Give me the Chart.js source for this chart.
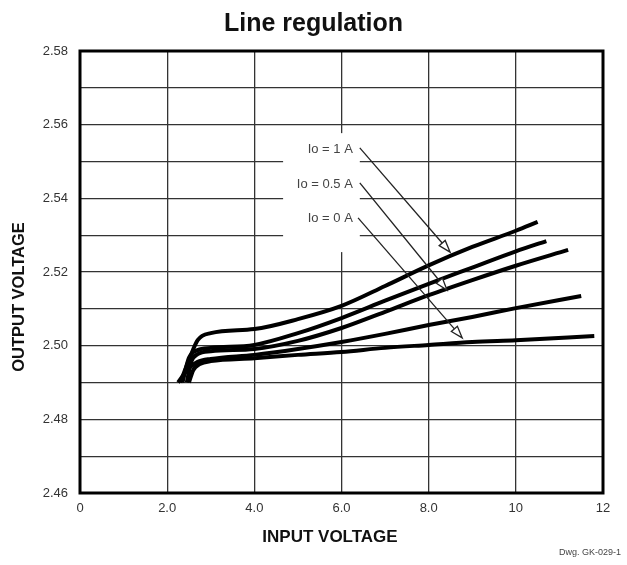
<!DOCTYPE html>
<html>
<head>
<meta charset="utf-8">
<script src="https://cdn.jsdelivr.net/npm/chart.js@4/dist/chart.umd.min.js"></script>
<style>
  html, body { margin: 0; padding: 0; background: #fff; }
  #wrap { width: 627px; height: 565px; }
</style>
</head>
<body>
<div id="wrap"><canvas id="chart" width="627" height="565"></canvas></div>
<script>
// curves (input volts -> output volts)
const vinA = [2.3, 2.5, 2.7, 3.0, 4.0, 5.0, 6.0, 7.0, 8.0, 9.0, 10.0, 10.5];
const voutA = [2.490, 2.4961, 2.5015, 2.5034, 2.5045, 2.5072, 2.5108, 2.5162, 2.5218, 2.5268, 2.5312, 2.5336];

const vinB = [2.35, 2.5, 2.7, 3.0, 4.0, 5.0, 6.0, 7.0, 8.0, 9.0, 10.0, 10.7];
const voutB = [2.490, 2.4967, 2.4988, 2.4994, 2.5002, 2.5034, 2.5075, 2.5122, 2.5168, 2.5212, 2.5256, 2.5284];

const vinC = [2.45, 2.55, 2.7, 3.0, 4.0, 5.0, 6.0, 7.0, 8.0, 9.0, 10.0, 11.2];
const voutC = [2.490, 2.4956, 2.4977, 2.4985, 2.4991, 2.5013, 2.5048, 2.5092, 2.5137, 2.5178, 2.5217, 2.5260];

const vinD = [2.25, 2.5, 2.7, 3.0, 4.0, 5.0, 6.0, 7.0, 8.0, 9.0, 10.0, 11.5];
const voutD = [2.490, 2.4939, 2.4956, 2.4964, 2.4975, 2.4991, 2.5010, 2.5032, 2.5056, 2.5078, 2.5102, 2.5135];

const vinE = [2.5, 2.6, 2.75, 3.0, 4.0, 5.0, 6.0, 7.0, 8.0, 9.0, 10.0, 11.8];
const voutE = [2.490, 2.4934, 2.4950, 2.4958, 2.4966, 2.4975, 2.4983, 2.4994, 2.5002, 2.5010, 2.5015, 2.5026];

const labelTexts = ["Io = 1 A", "Io = 0.5 A", "Io = 0 A"];
// label anchor (right edge) and arrow start/tip, in data units
const labelX = [6.26, 6.26, 6.26];
const labelY = [2.5532, 2.5437, 2.5345];
const arrowFromX = [6.42, 6.42, 6.38];
const arrowFromY = [2.5537, 2.5442, 2.5347];
const arrowToX = [8.49, 8.42, 8.77];
const arrowToY = [2.5254, 2.5151, 2.5021];

const FONT = "'Liberation Sans', Arial, sans-serif";

function pts(xs, ys) {
  return xs.map((x, i) => ({ x: x, y: ys[i] }));
}

function curve(xs, ys) {
  return {
    data: pts(xs, ys),
    borderColor: "#000",
    borderWidth: 4,
    pointRadius: 0,
    fill: false,
    cubicInterpolationMode: "monotone",
  };
}

const annotations = {
  id: "annotations",
  afterDatasetsDraw(chart) {
    const ctx = chart.ctx;
    const xs = chart.scales.x;
    const ys = chart.scales.y;
    ctx.save();

    // white box behind the labels
    const bx0 = xs.getPixelForValue(4.66);
    const bx1 = xs.getPixelForValue(6.42);
    const by0 = ys.getPixelForValue(2.5577);
    const by1 = ys.getPixelForValue(2.5254);
    ctx.fillStyle = "#fff";
    ctx.fillRect(bx0, by0, bx1 - bx0, by1 - by0);

    ctx.font = "13px " + FONT;
    ctx.fillStyle = "#444";
    ctx.textAlign = "right";
    ctx.textBaseline = "middle";
    for (let i = 0; i < labelTexts.length; i++) {
      ctx.fillText(labelTexts[i], xs.getPixelForValue(labelX[i]), ys.getPixelForValue(labelY[i]));
    }

    ctx.strokeStyle = "#222";
    ctx.lineWidth = 1.3;
    for (let i = 0; i < arrowFromX.length; i++) {
      const x0 = xs.getPixelForValue(arrowFromX[i]);
      const y0 = ys.getPixelForValue(arrowFromY[i]);
      const x1 = xs.getPixelForValue(arrowToX[i]);
      const y1 = ys.getPixelForValue(arrowToY[i]);
      const a = Math.atan2(y1 - y0, x1 - x0);
      const len = 12, half = 4;
      const bxp = x1 - len * Math.cos(a);
      const byp = y1 - len * Math.sin(a);
      ctx.beginPath();
      ctx.moveTo(x0, y0);
      ctx.lineTo(bxp, byp);
      ctx.stroke();
      ctx.beginPath();
      ctx.moveTo(x1, y1);
      ctx.lineTo(bxp + half * Math.sin(a), byp - half * Math.cos(a));
      ctx.lineTo(bxp - half * Math.sin(a), byp + half * Math.cos(a));
      ctx.closePath();
      ctx.fillStyle = "#fff";
      ctx.fill();
      ctx.stroke();
    }

    // frame
    const ca = chart.chartArea;
    ctx.strokeStyle = "#000";
    ctx.lineWidth = 3;
    ctx.strokeRect(ca.left, ca.top, ca.right - ca.left, ca.bottom - ca.top);

    // axis titles
    ctx.fillStyle = "#111";
    ctx.textAlign = "center";
    ctx.font = "bold 17px " + FONT;
    ctx.fillText("INPUT VOLTAGE", 330, 537);
    ctx.save();
    ctx.translate(19, 297);
    ctx.rotate(-Math.PI / 2);
    ctx.font = "bold 16.5px " + FONT;
    ctx.fillText("OUTPUT VOLTAGE", 0, 0);
    ctx.restore();

    ctx.font = "9px " + FONT;
    ctx.fillStyle = "#444";
    ctx.textAlign = "right";
    ctx.fillText("Dwg. GK-029-1", 621, 553);
    ctx.restore();
  },
};

new Chart(document.getElementById("chart").getContext("2d"), {
  type: "line",
  data: {
    datasets: [
      curve(vinA, voutA),
      curve(vinB, voutB),
      curve(vinC, voutC),
      curve(vinD, voutD),
      curve(vinE, voutE),
    ],
  },
  options: {
    responsive: false,
    animation: false,
    layout: { padding: { left: 24, right: 24, top: 0, bottom: 0 } },
    plugins: {
      legend: { display: false },
      tooltip: { enabled: false },
      title: {
        display: true,
        text: "Line regulation",
        color: "#111",
        font: { family: FONT, size: 25, weight: "bold", lineHeight: 1.2 },
        padding: { top: 9, bottom: 12 },
      },
    },
    scales: {
      x: {
        type: "linear",
        min: 0,
        max: 12,
        ticks: {
          stepSize: 2,
          color: "#333",
          padding: 8,
          font: { family: FONT, size: 13 },
          callback: (v) => (v === 0 ? "0" : v >= 10 ? String(v) : v.toFixed(1)),
        },
        grid: { color: "#333", lineWidth: 1.3, drawTicks: false },
        border: { display: false },
        afterFit: (scale) => {
          scale.height = 72;
        },
      },
      y: {
        min: 2.46,
        max: 2.58,
        ticks: {
          stepSize: 0.01,
          color: "#333",
          padding: 12,
          font: { family: FONT, size: 13 },
          callback: (v) => (Math.round(v * 100) % 2 === 0 ? v.toFixed(2) : ""),
        },
        grid: { color: "#333", lineWidth: 1.3, drawTicks: false },
        border: { display: false },
        afterFit: (scale) => {
          scale.width = 56;
        },
      },
    },
  },
  plugins: [annotations],
});
</script>
</body>
</html>
